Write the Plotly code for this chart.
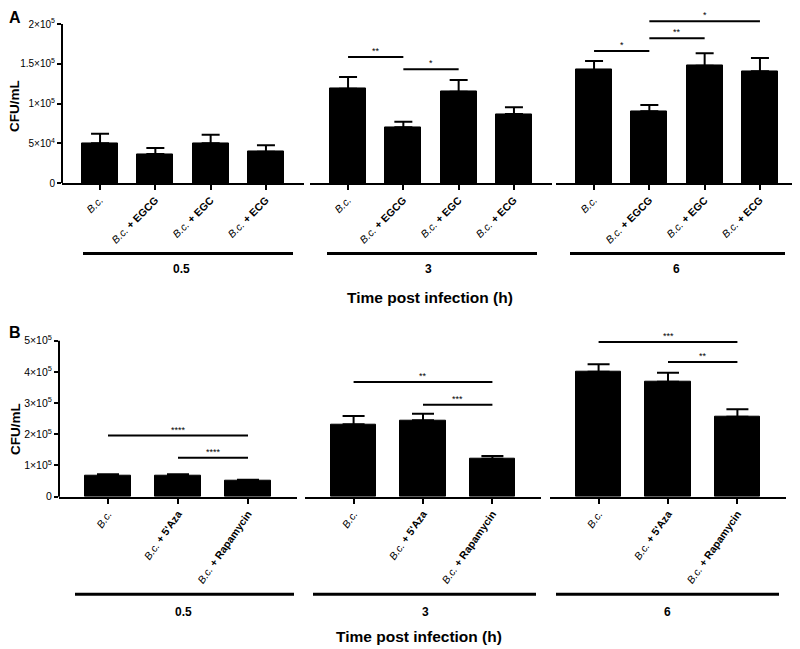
import plotly.graph_objects as go

# page has an 8px body margin; the figure is drawn 8px in from the window corner
OFF = 8
WIN_W, WIN_H = 800, 649
W, H = WIN_W - OFF, WIN_H - OFF

# ---------------- data ----------------
groups = ["0.5", "3", "6"]

catsA = ["B.c.", "B.c. + EGCG", "B.c. + EGC", "B.c. + ECG"]
meanA = [[50000, 36500, 50000, 39400],
         [118600, 70000, 114900, 86800],
         [142200, 90200, 147600, 140500]]
errA = [[11800, 7500, 10800, 8000],
        [14800, 7100, 14700, 8400],
        [11300, 7900, 15500, 16800]]
sigA = [[],
        [(0, 1, 158500, "**"), (1, 2, 143000, "*")],
        [(0, 1, 166000, "*"), (1, 2, 182000, "**"), (1, 3, 203400, "*")]]
ytickA_vals = [0, 50000, 100000, 150000, 200000]
ytickA_text = ["0", "5×10<sup>4</sup>", "1×10<sup>5</sup>", "1.5×10<sup>5</sup>", "2×10<sup>5</sup>"]

catsB = ["B.c.", "B.c. + 5'Aza", "B.c. + Rapamycin"]
meanB = [[67300, 68000, 50300],
         [232000, 244800, 121800],
         [400600, 368600, 256400]]
errB = [[4300, 3600, 4200],
        [26600, 21200, 8600],
        [23700, 28800, 23700]]
sigB = [[(0, 2, 196000, "****"), (1, 2, 124500, "****")],
        [(0, 2, 368000, "**"), (1, 2, 295000, "***")],
        [(0, 2, 496000, "***"), (1, 2, 432000, "**")]]
ytickB_vals = [0, 100000, 200000, 300000, 400000, 500000]
ytickB_text = ["0", "1×10<sup>5</sup>", "2×10<sup>5</sup>", "3×10<sup>5</sup>",
               "4×10<sup>5</sup>", "5×10<sup>5</sup>"]

FONT = "Liberation Sans, Arial, sans-serif"


def fmt(c):
    if c.startswith("B.c."):
        rest = c[4:]
        return "<i>B.c.</i>" + (f"<b>{rest}</b>" if rest else "")
    return c


def px(x):
    return (x - OFF) / W


def py(y):
    return 1 - (y - OFF) / H


fig = go.Figure()
layout = dict()
shapes = []
annotations = []

# panel geometry (window pixels)
A_dom = [(62, 304), (310, 552), (556, 798)]
B_dom = [(59, 297), (305, 541), (550, 786)]
A_y0, A_ytop, A_range = 183, 24, 212000   # 0 at 183, 2e5 at 24
B_y0, B_ytop, B_range = 496.7, 340.7, 532000

A_pxper = (A_y0 - A_ytop) / 200000
B_pxper = (B_y0 - B_ytop) / 500000

layout["yaxis"] = dict(domain=[py(A_y0), py(A_y0 - A_range * A_pxper)], range=[0, A_range],
                       anchor="x", tickvals=ytickA_vals, ticktext=ytickA_text,
                       ticks="outside", ticklen=4, tickwidth=1.5, tickcolor="black",
                       showgrid=False, zeroline=False, showline=False, automargin=False,
                       tickfont=dict(size=10, family=FONT, color="black"))
layout["yaxis2"] = dict(domain=[py(B_y0), py(B_y0 - B_range * B_pxper)], range=[0, B_range],
                        anchor="x4", tickvals=ytickB_vals, ticktext=ytickB_text,
                        ticks="outside", ticklen=4, tickwidth=1.5, tickcolor="black",
                        showgrid=False, zeroline=False, showline=False, automargin=False,
                        tickfont=dict(size=10.5, family=FONT, color="black"))


def add_panel(cats, means, errs, sigs, doms, yname, axoff, ecap, bwidth, nper, angle):
    n = len(cats)
    half = nper / 2
    for g in range(3):
        ax_i = axoff + g
        xname = "x" if ax_i == 1 else f"x{ax_i}"
        xkey = "xaxis" if ax_i == 1 else f"xaxis{ax_i}"
        c = (n - 1) / 2
        layout[xkey] = dict(domain=[px(doms[g][0]), px(doms[g][1])],
                            range=[c - half, c + half], anchor=yname,
                            tickvals=list(range(n)), ticktext=[fmt(k) for k in cats],
                            tickangle=angle, ticks="outside", ticklen=5, tickwidth=2,
                            tickcolor="black", showline=True, linewidth=2, linecolor="black",
                            showgrid=False, zeroline=False, automargin=False,
                            tickfont=dict(size=10.5, family=FONT, color="black"))
        fig.add_trace(go.Bar(x=list(range(n)), y=means[g], width=bwidth,
                             marker=dict(color="black", line=dict(color="black", width=1)),
                             error_y=dict(type="data", array=errs[g], arrayminus=[0] * n,
                                          symmetric=False, color="black", thickness=2,
                                          width=ecap),
                             xaxis=xname, yaxis=yname, showlegend=False, hoverinfo="skip"))
        for (i, j, yv, lab) in sigs[g]:
            fig.add_trace(go.Scatter(x=[i, j], y=[yv, yv], mode="lines",
                                     line=dict(color="black", width=2),
                                     xaxis=xname, yaxis=yname, showlegend=False,
                                     hoverinfo="skip", cliponaxis=False))
            annotations.append(dict(x=(i + j) / 2, y=yv, xref=xname, yref=yname,
                                    text=lab, showarrow=False, xanchor="center",
                                    yanchor="bottom", yshift=-1,
                                    font=dict(size=9, family=FONT, color="black")))


add_panel(catsA, meanA, errA, sigA, A_dom, "y", 1, 9, 0.65, 4.376, -45)
add_panel(catsB, meanB, errB, sigB, B_dom, "y2", 4, 11, 0.66, 3.4, -55)

# y axis lines
shapes.append(dict(type="line", xref="paper", yref="paper", x0=px(62), x1=px(62),
                   y0=py(A_y0), y1=py(A_ytop), line=dict(color="black", width=2)))
shapes.append(dict(type="line", xref="paper", yref="paper", x0=px(59), x1=px(59),
                   y0=py(B_y0), y1=py(B_ytop), line=dict(color="black", width=2)))

# group brackets
A_br = [(83, 293), (327, 537), (570, 785)]
A_lab_x = [181, 428, 676]
B_br = [(75, 294), (313, 536), (556, 779)]
B_lab_x = [183, 425, 667]


def text_ann(x, y, text, size, angle=0):
    return dict(x=px(x), y=py(y), xref="paper", yref="paper", text=text,
                showarrow=False, xanchor="center", yanchor="middle", textangle=angle,
                font=dict(size=size, family=FONT, color="black"))


for g in range(3):
    shapes.append(dict(type="line", xref="paper", yref="paper", x0=px(A_br[g][0]), x1=px(A_br[g][1]),
                       y0=py(253.5), y1=py(253.5), line=dict(color="black", width=3)))
    annotations.append(text_ann(A_lab_x[g], 269, f"<b>{groups[g]}</b>", 12))
    shapes.append(dict(type="line", xref="paper", yref="paper", x0=px(B_br[g][0]), x1=px(B_br[g][1]),
                       y0=py(594.3), y1=py(594.3), line=dict(color="black", width=3)))
    annotations.append(text_ann(B_lab_x[g], 611.5, f"<b>{groups[g]}</b>", 12))

# titles
annotations.append(text_ann(430, 297, "<b>Time post infection (h)</b>", 15.5))
annotations.append(text_ann(419, 636, "<b>Time post infection (h)</b>", 15.5))
annotations.append(text_ann(15, 106, "<b>CFU/mL</b>", 13.5, -90))
annotations.append(text_ann(15, 429, "<b>CFU/mL</b>", 13.5, -90))
annotations.append(text_ann(15, 18, "<b>A</b>", 16))
annotations.append(text_ann(15, 333, "<b>B</b>", 16))

fig.update_layout(width=W, height=H, margin=dict(l=0, r=0, t=0, b=0, autoexpand=False),
                  paper_bgcolor="white", plot_bgcolor="white",
                  shapes=shapes, annotations=annotations, bargap=0,
                  font=dict(family=FONT, color="black"), **layout)

fig.write_html("out.html")
